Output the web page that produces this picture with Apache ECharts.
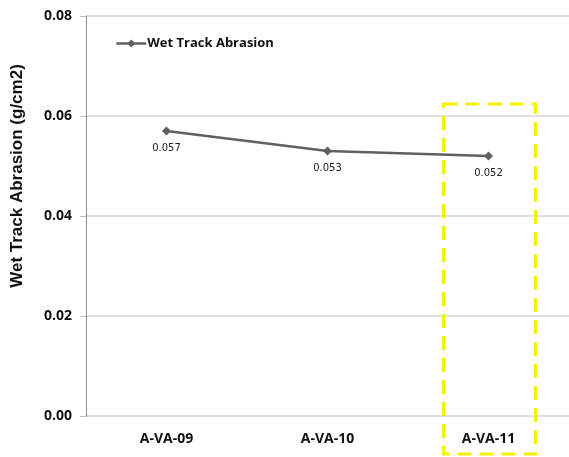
<!DOCTYPE html>
<html>
<head>
<meta charset="utf-8">
<script src="https://cdn.jsdelivr.net/npm/echarts@6/dist/echarts.min.js"></script>
<style>
  html, body { margin: 0; padding: 0; background: #fff; }
  #chart { width: 569px; height: 457px; }
</style>
</head>
<body>
<div id="chart"></div>
<script>
// Samples along the x axis
const categories = ['A-VA-09', 'A-VA-10', 'A-VA-11'];
// Wet track abrasion loss, g/cm2
const abrasion = [0.057, 0.053, 0.052];
// Value axis ticks
const yTicks = [0.00, 0.02, 0.04, 0.06, 0.08];

const seriesName = 'Wet Track Abrasion';
const axisTitle = 'Wet Track Abrasion (g/cm2)';
const boldFont = '"Open Sans", "Liberation Sans", sans-serif';

const chart = echarts.init(document.getElementById('chart'));

chart.setOption({
  animation: false,
  backgroundColor: '#ffffff',
  grid: { left: 86, right: -3, top: 16, bottom: 41, containLabel: false },
  legend: {
    data: [seriesName],
    left: 110,
    top: 32,
    itemWidth: 30,
    itemHeight: 10,
    itemGap: 4,
    itemStyle: { color: '#606060' },
    lineStyle: { color: '#606060', width: 2.5 },
    textStyle: { fontFamily: boldFont, fontWeight: 'bold', fontSize: 13, color: '#111', padding: [0, 0, 0, -4] }
  },
  xAxis: {
    type: 'category',
    data: categories,
    boundaryGap: true,
    axisLine: { show: false },
    axisTick: { show: false },
    axisLabel: {
      margin: 16,
      fontFamily: boldFont,
      fontWeight: 'bold',
      fontSize: 14,
      color: '#111'
    }
  },
  yAxis: {
    type: 'value',
    min: yTicks[0],
    max: yTicks[yTicks.length - 1],
    interval: 0.02,
    axisLine: { show: true, lineStyle: { color: '#8c8c8c', width: 1 } },
    axisTick: { show: true, length: 6, lineStyle: { color: '#bfbfbf' } },
    splitLine: { show: true, lineStyle: { color: '#d6d6d6', width: 1.5 } },
    axisLabel: {
      margin: 14,
      fontFamily: boldFont,
      fontWeight: 'bold',
      fontSize: 14,
      color: '#111',
      formatter: v => v.toFixed(2)
    }
  },
  series: [{
    name: seriesName,
    type: 'line',
    data: abrasion,
    symbol: 'diamond',
    symbolSize: 9,
    lineStyle: { color: '#606060', width: 2.5 },
    itemStyle: { color: '#606060' },
    label: {
      show: true,
      position: 'bottom',
      distance: 8,
      fontFamily: '"DejaVu Sans", Verdana, sans-serif',
      fontSize: 10,
      color: '#222',
      formatter: p => p.value.toFixed(3)
    }
  }]
});

// Vertical axis title and dashed highlight frame around the last sample
const cx = chart.convertToPixel({ xAxisIndex: 0 }, categories[2]);
chart.setOption({
  graphic: [{
    type: 'text',
    x: 17,
    y: 176,
    rotation: Math.PI / 2,
    style: {
      text: axisTitle,
      fontFamily: '"Liberation Sans", Arial, sans-serif',
      fontWeight: 'bold',
      fontSize: 17,
      fill: '#111',
      align: 'center',
      verticalAlign: 'middle'
    }
  }, {
    type: 'rect',
    shape: { x: cx - 45, y: 104, width: 92, height: 350 },
    style: { fill: 'none', stroke: '#f5f000', lineWidth: 3, lineDash: [14, 8] },
    z: 100
  }]
});
</script>
</body>
</html>
